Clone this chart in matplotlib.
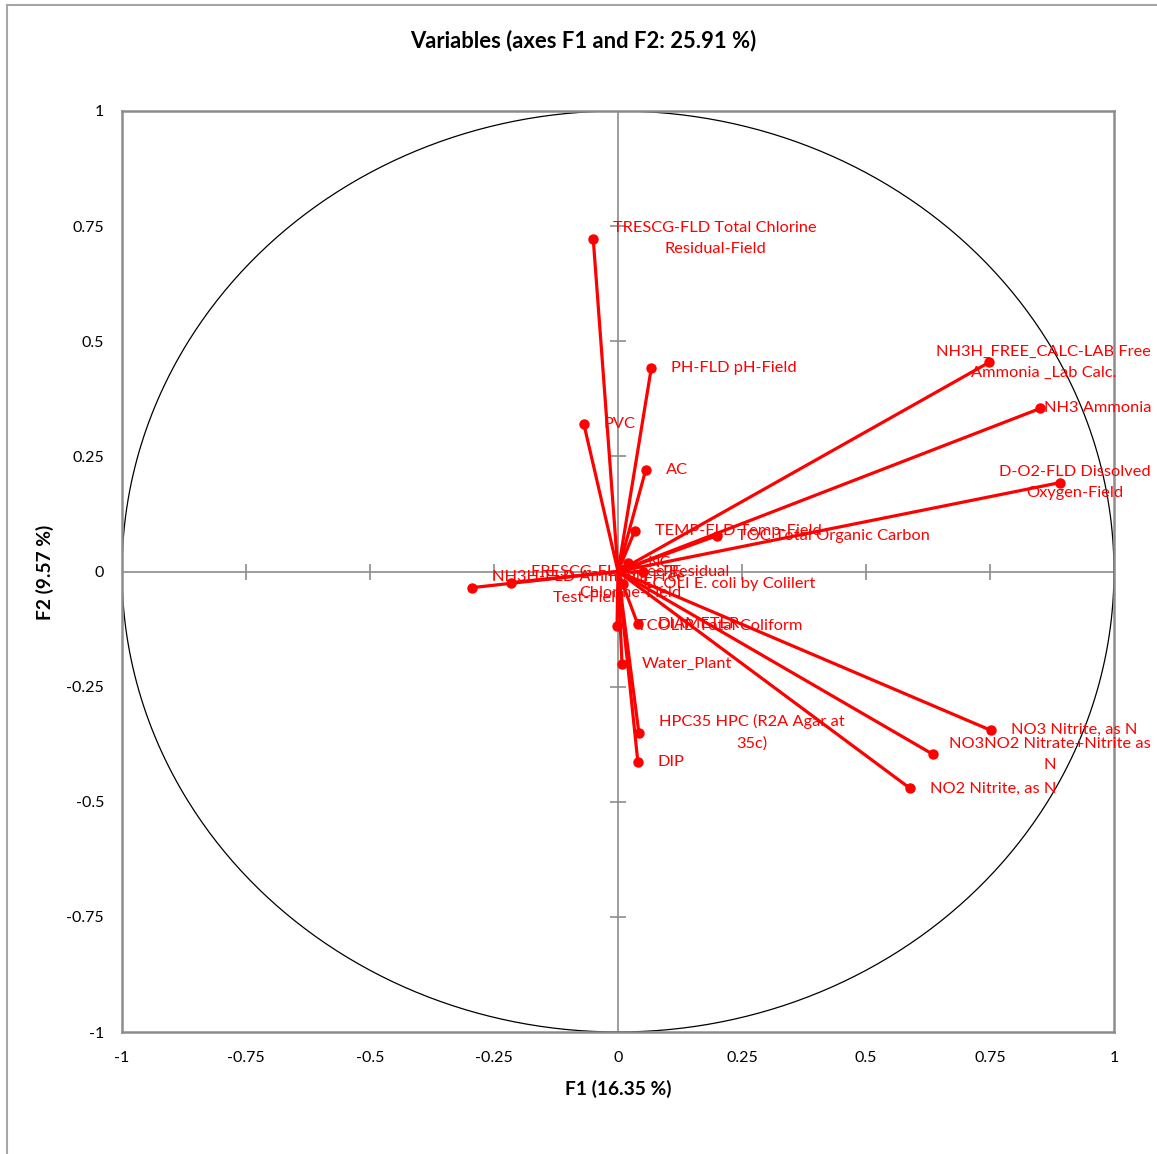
import numpy as np
import matplotlib
matplotlib.use("Agg")
import matplotlib.pyplot as plt
from matplotlib.lines import Line2D

plt.rcParams['font.family'] = ['Lato', 'DejaVu Sans']

# ---- data ----
labels = [
    "TRESCG-FLD Total Chlorine\nResidual-Field",
    "PH-FLD pH-Field",
    "PVC",
    "AC",
    "TEMP-FLD Temp-Field",
    "TOC Total Organic Carbon",
    "NH3H_FREE_CALC-LAB Free\nAmmonia _Lab Calc.",
    "NH3 Ammonia",
    "D-O2-FLD Dissolved\nOxygen-Field",
    "NO3 Nitrite, as N",
    "NO3NO2 Nitrate+Nitrite as\nN",
    "NO2 Nitrite, as N",
    "DIP",
    "HPC35 HPC (R2A Agar at\n35c)",
    "Water_Plant",
    "TCOLIB Total Coliform",
    "DIAMETER",
    "NH3H-FLD Ammonia Free\nTest-Field",
    "FRESCG-FLD Free Residual\nChlorine-Field",
    "ECOLI E. coli by Colilert",
    "NC",
    "PE",
]
f1 = [-0.050, 0.067, -0.069, 0.056, 0.034, 0.200, 0.748, 0.851, 0.891, 0.752,
      0.635, 0.589, 0.040, 0.042, 0.008, -0.002, 0.040, -0.294, -0.216, 0.010,
      0.020, 0.050]
f2 = [0.723, 0.441, 0.321, 0.221, 0.089, 0.078, 0.454, 0.354, 0.193, -0.345,
      -0.397, -0.471, -0.413, -0.350, -0.200, -0.119, -0.115, -0.035, -0.024, -0.028,
      0.018, -0.002]

tick_vals = [-1, -0.75, -0.5, -0.25, 0, 0.25, 0.5, 0.75, 1]
tick_text = ["-1", "-0.75", "-0.5", "-0.25", "0", "0.25", "0.5", "0.75", "1"]

title = "Variables (axes F1 and F2: 25.91 %)"
xlabel = "F1 (16.35 %)"
ylabel = "F2 (9.57 %)"

# ---- figure ----
W, H = 1157, 1154
fig = plt.figure(figsize=(W / 100, H / 100), dpi=100)
ax = fig.add_axes([122 / W, 1 - 1032 / H, (1114 - 122) / W, (1032 - 111) / H])

RED = "#FF0000"
GREY = "#8C8C8C"

ax.set_xlim(-1, 1)
ax.set_ylim(-1, 1)

# outer chart border (left and top visible)
fig.add_artist(Line2D([7 / W, 7 / W], [0, 1 - 5 / H], transform=fig.transFigure,
                      color="#A6A6A6", lw=1.5))
fig.add_artist(Line2D([7 / W, 1], [1 - 5 / H, 1 - 5 / H], transform=fig.transFigure,
                      color="#A6A6A6", lw=1.5))

for s in ax.spines.values():
    s.set_color(GREY)
    s.set_linewidth(1.8)

# zero axes with cross ticks
ax.axhline(0, color=GREY, lw=1.2, zorder=1)
ax.axvline(0, color=GREY, lw=1.2, zorder=1)
inner = [t for t in tick_vals if t not in (-1, 0, 1)]
ax.plot(inner, [0] * len(inner), ls="none", marker="|", ms=12, mew=1.2, color=GREY, zorder=1)
ax.plot([0] * len(inner), inner, ls="none", marker="_", ms=12, mew=1.2, color=GREY, zorder=1)

# unit circle
th = np.linspace(0, 2 * np.pi, 721)
ax.plot(np.cos(th), np.sin(th), color="black", lw=0.9, zorder=2)

ax.set_xticks(tick_vals)
ax.set_xticklabels(tick_text)
ax.set_yticks(tick_vals)
ax.set_yticklabels(tick_text)
ax.tick_params(axis="both", length=0, labelsize=11.5, colors="black")
ax.tick_params(axis="x", pad=14)
ax.tick_params(axis="y", pad=13)

# vectors
for x, y in zip(f1, f2):
    ax.plot([0, x], [0, y], color=RED, lw=2.3, solid_capstyle="round", zorder=3)
ax.plot(f1, f2, ls="none", marker="o", ms=6.5, color=RED, zorder=4)

anns = []
for lab, x, y in zip(labels, f1, f2):
    a = ax.annotate(lab, (x, y), xytext=(14.4, 0), textcoords="offset points",
                    ha="left", va="center", multialignment="center",
                    color=RED, fontsize=11.8, zorder=5, annotation_clip=False,
                    linespacing=1.65)
    anns.append(a)

fig.text(583 / W, 1 - 41 / H, title, ha="center", va="center",
         fontsize=15.8, fontweight="bold")
fig.text(618 / W, 1 - 1089 / H, xlabel, ha="center", va="center",
         fontsize=13.8, fontweight="bold")
fig.text(45 / W, 1 - 572 / H, ylabel, ha="center", va="center",
         fontsize=13.8, fontweight="bold", rotation=90)

# keep labels inside the chart area (like the source software)
fig.canvas.draw()
r = fig.canvas.get_renderer()
limit = 1151
for a in anns:
    bb = a.get_window_extent(r)
    if bb.x1 > limit:
        d = (bb.x1 - limit) * 72 / fig.dpi
        a.set_position((14.4 - d, 0))

fig.savefig("out.png", dpi=100)
